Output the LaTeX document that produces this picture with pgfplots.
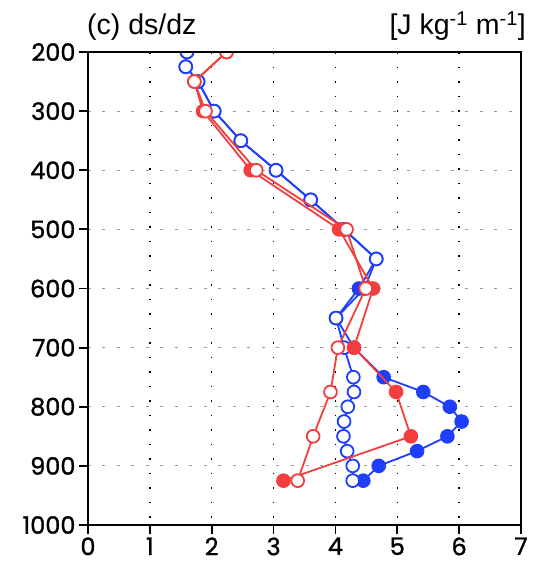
\documentclass[border=0pt]{standalone}
\usepackage{pgfplots}
\pgfplotsset{compat=1.18}
\usepackage{fontspec}
\setmainfont{Liberation Sans}
\newfontfamily\tickfont{Poppins}[FakeBold=1.2]
\definecolor{cblue}{RGB}{30,62,250}
\definecolor{cred}{RGB}{242,62,62}

\pgfplotstableread{
v p
1.60 200
1.58 225
1.78 250
2.04 300
2.47 350
3.04 400
3.60 450
4.14 500
4.66 550
4.38 600
4.01 650
4.30 700
4.78 750
5.42 775
5.85 800
6.04 825
5.81 850
5.32 875
4.70 900
4.45 925
}\bluefilled

\pgfplotstableread{
v p
1.60 200
1.58 225
1.78 250
2.04 300
2.47 350
3.04 400
3.60 450
4.14 500
4.66 550
4.47 600
4.01 650
4.14 700
4.29 750
4.30 775
4.20 800
4.14 825
4.13 850
4.19 875
4.28 900
4.28 925
}\blueopen

\pgfplotstableread{
v p
2.24 200
1.72 250
1.86 300
2.63 400
4.06 500
4.61 600
4.30 700
4.98 775
5.22 850
3.16 925
}\redfilled

\pgfplotstableread{
v p
2.24 200
1.72 250
1.90 300
2.72 400
4.18 500
4.49 600
4.04 700
3.92 775
3.64 850
3.39 925
}\redopen

\begin{document}
\begin{tikzpicture}[x=1pt,y=1pt]
\useasboundingbox (-88,-41) rectangle (447,525);
\begin{axis}[
  at={(0,0)}, anchor=south west,
  scale only axis, width=433pt, height=473pt,
  xmin=0, xmax=7, ymin=200, ymax=1000, y dir=reverse,
  xtick={0,1,...,7}, ytick={200,300,...,1000},
  tick pos=left, tick align=outside, major tick length=9pt,
  tick style={black, line width=1.8pt},
  axis line style={line width=2.6pt},
  xmajorgrids, ymajorgrids,
  major x grid style={black, line width=1.5pt, dash pattern=on 1.5pt off 13pt},
  major y grid style={black!40, line width=1pt, dash pattern=on 3pt off 11.5pt},
  ticklabel style={font=\tickfont\fontsize{24}{24}\selectfont},
  /pgf/number format/assume math mode=true,
  /pgf/number format/1000 sep={},
  clip mode=individual, clip marker paths=true,
  every axis plot/.append style={line width=1.8pt, mark=*, mark size=6.4pt},
]
\addplot[cblue, mark options={solid, fill=cblue}] table[x=v, y=p] {\bluefilled};
\addplot[cblue, mark options={solid, fill=white}] table[x=v, y=p] {\blueopen};
\addplot[cred, mark options={solid, fill=cred}] table[x=v, y=p] {\redfilled};
\addplot[cred, mark options={solid, fill=white}] table[x=v, y=p] {\redopen};
\draw[line width=2.6pt] (rel axis cs:0,0) rectangle (rel axis cs:1,1);
\end{axis}
\node[anchor=base west, inner sep=0, font=\fontsize{28.5}{28.5}\selectfont] at (-1,490) {(c) ds/dz};
\node[anchor=base east, inner sep=0, font=\fontsize{28.5}{28.5}\selectfont] at (438,490) {[J kg\textsuperscript{-1} m\textsuperscript{-1}]};
\end{tikzpicture}
\end{document}
